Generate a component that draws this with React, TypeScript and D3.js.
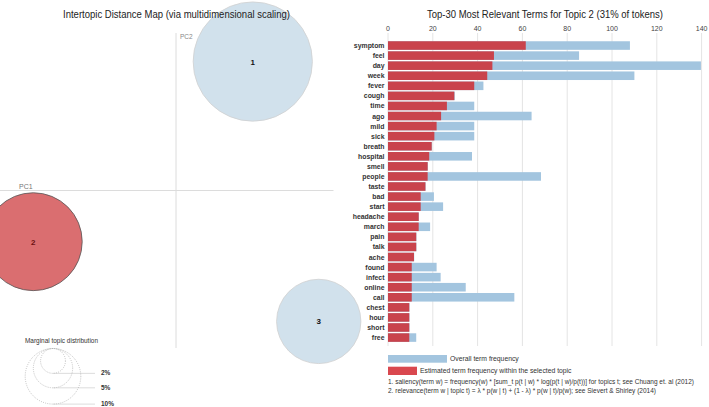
import React from "react";
import * as d3 from "d3";

const terms = ["symptom","feel","day","week","fever","cough","time","ago","mild","sick","breath","hospital","smell","people","taste","bad","start","headache","march","pain","talk","ache","found","infect","online","call","chest","hour","short","free"];
const topicFreq = [61.5,47.3,46.6,44.3,38.5,29.6,26.3,23.7,21.7,20.7,19.5,18.4,17.7,17.7,16.7,14.6,14.6,13.7,13.7,12.6,12.6,11.6,10.6,10.6,10.6,10.6,9.5,9.5,9.5,9.5];
const overallFreq = [108,85.3,139.7,110,42.6,29.8,38.5,64.1,38.5,38.5,19.6,37.5,17.8,68.3,16.8,20.5,24.6,13.8,18.8,12.7,12.7,11.7,21.7,23.5,34.7,56.4,9.6,9.6,9.6,12.6];
const xTicks = [0,20,40,60,80,100,120,140];

const topics = [1, 2, 3];
const topicShare = [46, 31, 23];
const topicPC1 = [0.078, -0.145, 0.145];
const topicPC2 = [0.131, -0.052, -0.133];
const selectedTopic = 2;
const legendShares = [2, 5, 10];
const legendLabels = ["2%", "5%", "10%"];

const FONT = "'Liberation Sans', Arial, sans-serif";

export default function App() {
  const xPC = d3.scaleLinear().domain([-0.16, 0.16]).range([18.5, 333.5]);
  const yPC = d3.scaleLinear().domain([-0.16, 0.16]).range([348, 33]);
  const rScale = d3.scaleSqrt().domain([0, 10]).range([0, 27.8]);

  const x = d3.scaleLinear().domain([0, 140]).range([388, 701.6]);
  const y = d3.scaleBand<string>().domain(terms).range([40.5, 40.5 + 30 * 10.07]).paddingInner(0.15).paddingOuter(0.075);

  const legCx = 53;
  const legTop = 348.5;

  return (
    <svg width={709} height={407} style={{ position: "absolute", left: 0, top: 0, background: "#fff" }} fontFamily={FONT}>
      <line x1={0} x2={333.5} y1={yPC(0)} y2={yPC(0)} stroke="#dcdcdc" strokeWidth={1} />
      <line x1={xPC(0)} x2={xPC(0)} y1={33} y2={348} stroke="#dcdcdc" strokeWidth={1} />
      <text x={19} y={188.5} fontSize={7} fill="#777">PC1</text>
      <text x={180} y={39} fontSize={6.5} fill="#888">PC2</text>

      {topics.map((t, i) => {
        const sel = t === selectedTopic;
        return (
          <g key={t}>
            <circle cx={xPC(topicPC1[i])} cy={yPC(topicPC2[i])} r={rScale(topicShare[i])}
              fill={sel ? "#da6e70" : "#d1e1ec"} stroke={sel ? "#555" : "#d0d0d0"} strokeWidth={0.8} />
            <text x={xPC(topicPC1[i])} y={yPC(topicPC2[i]) + 3} textAnchor="middle" fontSize={8} fontWeight="bold"
              fill={sel ? "#6b1010" : "#111"}>{t}</text>
          </g>
        );
      })}

      <text x={176.5} y={18} textAnchor="middle" fontSize={11} fill="#222" textLength={227} lengthAdjust="spacingAndGlyphs">
        Intertopic Distance Map (via multidimensional scaling)
      </text>

      <text x={25} y={343} fontSize={6.5} fill="#333" textLength={73} lengthAdjust="spacingAndGlyphs">Marginal topic distribution</text>
      {legendShares.map((s, i) => {
        const r = rScale(s);
        return (
          <g key={s}>
            <circle cx={legCx} cy={legTop + r} r={r} fill="none" stroke="#aaa" strokeWidth={0.7} strokeDasharray="1,1.2" />
            <line x1={legCx} x2={95} y1={legTop + 2 * r} y2={legTop + 2 * r} stroke="#c4c4c4" strokeWidth={0.6} />
            <text x={101} y={legTop + 2 * r + 2} fontSize={6.5} fill="#333" fontWeight="bold">{legendLabels[i]}</text>
          </g>
        );
      })}

      <text x={545} y={18} textAnchor="middle" fontSize={11} fill="#222" textLength={236} lengthAdjust="spacingAndGlyphs">
        Top-30 Most Relevant Terms for Topic 2 (31% of tokens)
      </text>
      {xTicks.map((t) => (
        <g key={t}>
          <line x1={x(t)} x2={x(t)} y1={33} y2={346} stroke="#e4e4e4" strokeWidth={1} />
          <text x={x(t)} y={30.5} textAnchor="middle" fontSize={7} fill="#444">{t}</text>
        </g>
      ))}
      {terms.map((term, i) => (
        <g key={term}>
          <rect x={x(0)} y={y(term)} width={x(overallFreq[i]) - x(0)} height={y.bandwidth()} fill="#a3c5df" />
          <rect x={x(0)} y={y(term)} width={x(topicFreq[i]) - x(0)} height={y.bandwidth()} fill="#c9434c" />
          <text x={384.5} y={(y(term) as number) + y.bandwidth() / 2 + 2.5} textAnchor="end" fontSize={6.9} fontWeight="bold" fill="#333">{term}</text>
        </g>
      ))}

      <rect x={388} y={355} width={59} height={7.7} fill="#a3c5df" />
      <text x={450} y={361} fontSize={6.8} fill="#333">Overall term frequency</text>
      <rect x={388} y={366.7} width={29} height={8.3} fill="#d9484f" />
      <text x={420} y={373} fontSize={6.8} fill="#333">Estimated term frequency within the selected topic</text>

      <text x={388} y={384} fontSize={6.3} fill="#333" textLength={306} lengthAdjust="spacingAndGlyphs">
        1. saliency(term w) = frequency(w) * [sum_t p(t | w) * log(p(t | w)/p(t))] for topics t; see Chuang et. al (2012)
      </text>
      <text x={388} y={392.5} fontSize={6.3} fill="#333" textLength={268} lengthAdjust="spacingAndGlyphs">
        2. relevance(term w | topic t) = λ * p(w | t) + (1 - λ) * p(w | t)/p(w); see Sievert &amp; Shirley (2014)
      </text>
    </svg>
  );
}
